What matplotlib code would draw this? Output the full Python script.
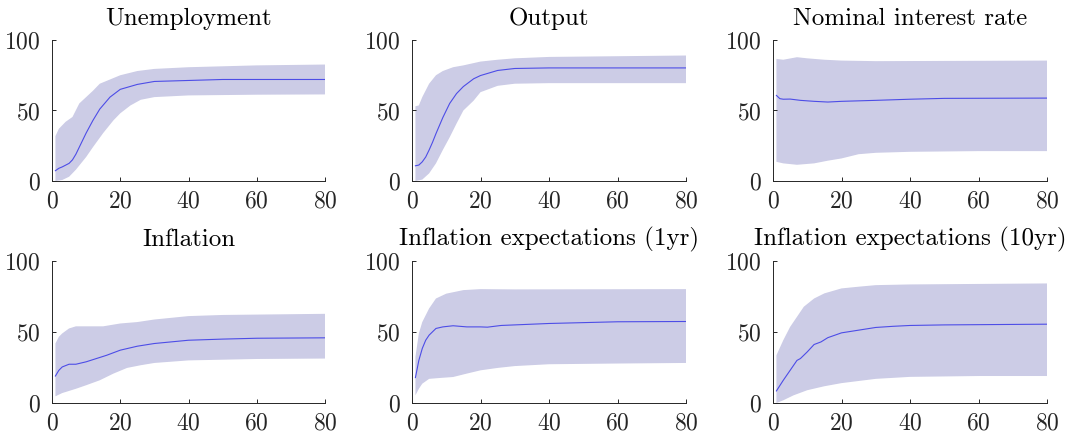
import matplotlib
matplotlib.use("Agg")
import matplotlib.pyplot as plt
import numpy as np

plt.rcParams['font.family'] = ['cmr10', 'DejaVu Serif']
plt.rcParams['mathtext.fontset'] = 'cm'
plt.rcParams['axes.formatter.use_mathtext'] = True
plt.rcParams['axes.unicode_minus'] = False

titles = ["Unemployment", "Output", "Nominal interest rate",
          "Inflation", "Inflation expectations (1yr)", "Inflation expectations (10yr)"]

# Unemployment
unemp_x_med = [1, 2, 3, 5, 6, 7, 8, 10, 12, 14, 17, 20, 25, 30, 40, 50, 80]
unemp_med = [7.3, 9, 10, 12.5, 15, 19, 24, 34, 43, 51, 59.5, 65, 68.5, 70.6, 71.3, 72, 72]
unemp_x_up = [1, 2, 4, 6, 8, 10, 12, 14, 16, 20, 25, 30, 40, 60, 80]
unemp_up = [31.8, 37, 42, 45.4, 55, 59.5, 64, 69, 71, 75, 78, 79.5, 80.7, 82, 82.6]
unemp_x_lo = [1, 3, 5, 7, 10, 12, 15, 18, 20, 23, 26, 30, 40, 60, 80]
unemp_lo = [0, 0.7, 3, 8, 17, 24, 34, 43, 48, 53.6, 57.6, 59.5, 60.7, 61.2, 61.4]

# Output
out_x_med = [1, 2, 3, 4, 5, 6, 7, 9, 11, 13, 15, 18, 20, 25, 30, 40, 80]
out_med = [10.8, 11.3, 13.6, 17, 22, 27.5, 33.6, 45, 55, 62, 67, 72.5, 74.8, 78.4, 79.8, 80.2, 80.2]
out_x_up = [1, 2, 3, 5, 7, 9, 12, 15, 20, 25, 30, 40, 80]
out_up = [53, 53.6, 59.5, 69, 75, 78, 80.7, 82, 84.7, 86, 87, 88, 89]
out_x_lo = [1, 3, 5, 7, 9, 11, 13, 15, 18, 20, 25, 30, 40, 80]
out_lo = [0, 1, 5.4, 12.5, 22, 31, 40.7, 50, 57, 63, 67.5, 69, 69.4, 69.4]

# Nominal interest rate
rate_x_med = [1, 2, 3, 5, 8, 12, 16, 20, 30, 40, 50, 80]
rate_med = [60.7, 58.4, 58, 58.1, 57.2, 56.5, 56, 56.5, 57.2, 58, 58.6, 58.8]
rate_x_up = [1, 3, 7, 10, 15, 20, 30, 80]
rate_up = [86.6, 86, 87.8, 87, 86, 85.4, 85, 85.4]
rate_x_lo = [1, 3, 7, 12, 16, 20, 25, 30, 40, 60, 80]
rate_lo = [13.6, 12.5, 11.5, 12.5, 14.4, 16, 19, 20, 20.7, 21.2, 21.2]

# Inflation
infl_x_med = [1, 2, 3, 5, 7, 10, 13, 16, 20, 25, 30, 40, 50, 60, 80]
infl_med = [19, 23, 25.4, 27.3, 27.3, 29, 31.3, 33.6, 37.2, 40, 41.9, 44.2, 45, 45.6, 45.9]
infl_x_up = [1, 2, 3, 5, 7, 10, 15, 20, 25, 30, 40, 50, 80]
infl_up = [41.9, 46.6, 49, 52.5, 54, 54, 54, 56, 57, 58.8, 61.2, 62, 62.8]
infl_x_lo = [1, 3, 7, 10, 14, 18, 22, 26, 30, 40, 60, 80]
infl_lo = [4.7, 7, 10, 12.5, 16, 20.7, 24.7, 26.6, 28.2, 30, 31, 31.3]

# Inflation expectations (1yr)
e1_x_med = [1, 2, 3, 4, 5, 7, 9, 12, 16, 20, 22, 26, 30, 40, 60, 80]
e1_med = [17.9, 30, 38.4, 44.2, 47.8, 52.5, 53.6, 54.4, 53.6, 53.6, 53.4, 54.6, 55, 56, 57.2, 57.4]
e1_x_up = [1, 2, 3, 5, 7, 10, 15, 20, 30, 80]
e1_up = [32.5, 49, 57, 66.6, 73.6, 77, 79.5, 80.2, 80, 80.2]
e1_x_lo = [1, 2, 3, 5, 8, 12, 16, 20, 25, 30, 40, 60, 80]
e1_lo = [5.4, 10, 13.6, 17, 17.6, 18.3, 20.7, 23, 24.7, 26, 27.3, 27.8, 28.2]

# Inflation expectations (10yr)
e10_x_med = [1, 3, 5, 7, 8, 10, 12, 14, 16, 20, 25, 30, 35, 40, 50, 80]
e10_med = [8.5, 16, 23, 30, 31.3, 36, 41.2, 43, 46, 49.4, 51.3, 53.2, 54, 54.6, 55, 55.5]
e10_x_up = [1, 3, 5, 7, 9, 12, 15, 20, 25, 30, 40, 80]
e10_up = [33.6, 44.2, 53.6, 60.7, 67.8, 73.6, 77.2, 80.7, 81.9, 83, 83.5, 84.2]
e10_x_lo = [1, 3, 6, 10, 15, 20, 25, 30, 40, 60, 80]
e10_lo = [0, 1.9, 5.4, 9, 11.8, 14, 15.5, 17, 18.4, 19, 19]

panels = [
    (unemp_x_med, unemp_med, unemp_x_up, unemp_up, unemp_x_lo, unemp_lo),
    (out_x_med, out_med, out_x_up, out_up, out_x_lo, out_lo),
    (rate_x_med, rate_med, rate_x_up, rate_up, rate_x_lo, rate_lo),
    (infl_x_med, infl_med, infl_x_up, infl_up, infl_x_lo, infl_lo),
    (e1_x_med, e1_med, e1_x_up, e1_up, e1_x_lo, e1_lo),
    (e10_x_med, e10_med, e10_x_up, e10_up, e10_x_lo, e10_lo),
]

x_ticks = [0, 20, 40, 60, 80]
y_ticks = [0, 50, 100]

W, H = 1068, 441
fig = plt.figure(figsize=(W / 100, H / 100), dpi=100)

col_left = [52, 412, 773]
col_w = [273, 274, 274]
row_top = [40, 261]
row_h = [141, 142]

fill_color = (0.8, 0.8, 0.9)
line_color = (0.3, 0.3, 0.9)
axis_color = (0.15, 0.15, 0.15)

for i, (title, p) in enumerate(zip(titles, panels)):
    r, c = divmod(i, 3)
    ax = fig.add_axes([col_left[c] / W, 1 - (row_top[r] + row_h[r]) / H,
                       col_w[c] / W, row_h[r] / H])
    xm, ym, xu, yu, xl, yl = p
    # polygon of band: upper edge forward, lower edge backward
    px = list(xu) + list(xl)[::-1]
    py = list(yu) + list(yl)[::-1]
    ax.fill(px, py, color=fill_color, linewidth=0)
    ax.plot(xm, ym, color=line_color, linewidth=0.8)
    ax.set_xlim(0, 80)
    ax.set_ylim(0, 100)
    ax.set_xticks(x_ticks)
    ax.set_yticks(y_ticks)
    for s in ['top', 'right']:
        ax.spines[s].set_visible(False)
    for s in ['left', 'bottom']:
        ax.spines[s].set_color(axis_color)
        ax.spines[s].set_linewidth(0.7)
    ax.tick_params(direction='in', length=3, width=0.7, color=axis_color,
                   labelcolor=axis_color, labelsize=17)
    ax.tick_params(axis='x', pad=7)
    ax.tick_params(axis='y', pad=8)
    ax.set_title(title, fontsize=18, pad=11, color='black')

fig.savefig("out.png", dpi=100)
